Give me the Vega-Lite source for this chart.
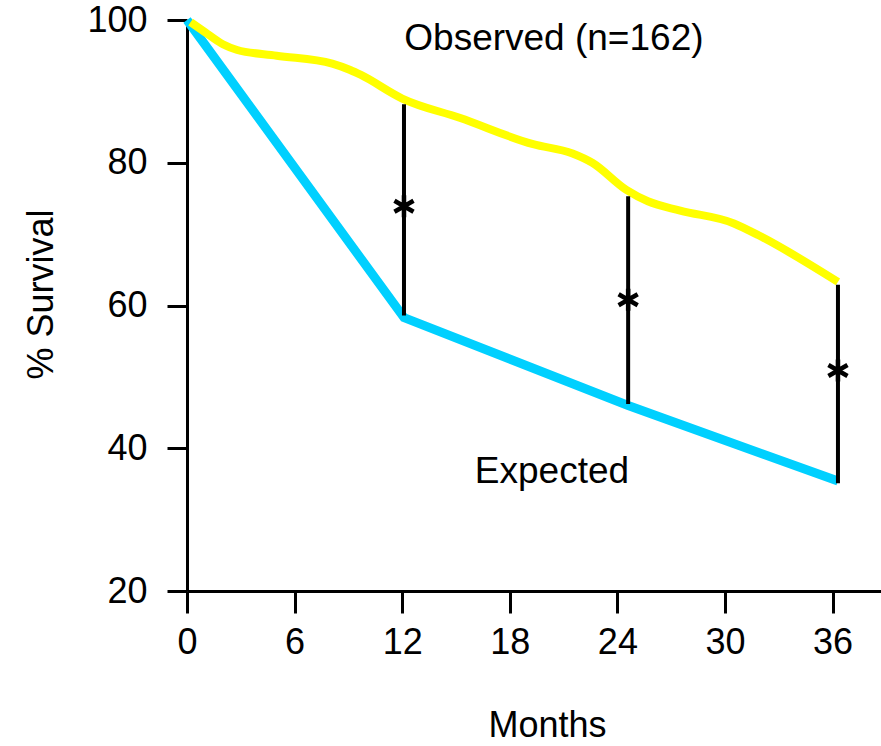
{
  "$schema": "https://vega.github.io/schema/vega-lite/v6.json",
  "width": 694,
  "height": 571,
  "autosize": {"type": "none"},
  "padding": {"left": 187, "top": 20, "right": 0, "bottom": 155},
  "background": "white",
  "config": {
    "view": {"stroke": null},
    "font": "Liberation Sans",
    "axis": {
      "grid": false,
      "domainColor": "black",
      "domainWidth": 3,
      "tickColor": "black",
      "tickWidth": 3,
      "labelColor": "black",
      "labelFont": "Liberation Sans",
      "labelFontSize": 36,
      "labelFlush": false,
      "labelOverlap": false,
      "titleFont": "Liberation Sans",
      "titleFontSize": 36,
      "titleFontWeight": "normal",
      "titleColor": "black"
    }
  },
  "layer": [
    {
      "data": {"values": [
        {"month": 0, "pct": 100},
        {"month": 12.1, "pct": 58.3},
        {"month": 24.6, "pct": 46.0},
        {"month": 36.3, "pct": 35.4}
      ]},
      "mark": {"type": "line", "color": "#00D0FF", "strokeWidth": 9},
      "encoding": {
        "x": {"field": "month", "type": "quantitative",
          "scale": {"domain": [0, 38.7], "nice": false, "zero": false},
          "axis": {"values": [0, 6, 12, 18, 24, 30, 36], "tickSize": 22, "labelPadding": 12,
            "title": "Months", "titleX": 360, "titleY": 145, "titleBaseline": "alphabetic", "titleAlign": "center"}},
        "y": {"field": "pct", "type": "quantitative",
          "scale": {"domain": [20, 100], "nice": false, "zero": false},
          "axis": {"values": [20, 40, 60, 80, 100], "tickSize": 20, "labelPadding": 20,
            "title": "% Survival", "titleAngle": -90, "titleX": -135, "titleY": 274, "titleBaseline": "alphabetic", "titleAlign": "center"}}
      }
    },
    {
      "data": {"values": [
        {"month": 0.2, "pct": 99.7},
        {"month": 1.0, "pct": 98.3},
        {"month": 2.0, "pct": 96.6},
        {"month": 2.8, "pct": 95.8},
        {"month": 5.0, "pct": 95.0},
        {"month": 8.1, "pct": 93.9},
        {"month": 9.1, "pct": 93.0},
        {"month": 9.7, "pct": 92.3},
        {"month": 12.0, "pct": 89.0},
        {"month": 15.2, "pct": 86.3},
        {"month": 19.3, "pct": 82.6},
        {"month": 21.5, "pct": 81.3},
        {"month": 22.6, "pct": 80.0},
        {"month": 24.5, "pct": 76.2},
        {"month": 25.7, "pct": 74.6},
        {"month": 27.5, "pct": 73.3},
        {"month": 30.5, "pct": 71.5},
        {"month": 31.9, "pct": 69.8},
        {"month": 36.3, "pct": 63.3}
      ]},
      "mark": {"type": "line", "color": "#FFFF00", "strokeWidth": 8, "interpolate": "monotone"},
      "encoding": {
        "x": {"field": "month", "type": "quantitative"},
        "y": {"field": "pct", "type": "quantitative"}
      }
    },
    {
      "data": {"values": [
        {"month": 12.1, "lo": 58.6, "hi": 88.2},
        {"month": 24.6, "lo": 46.2, "hi": 75.3},
        {"month": 36.3, "lo": 35.1, "hi": 62.9}
      ]},
      "mark": {"type": "rule", "color": "black", "strokeWidth": 4},
      "encoding": {
        "x": {"field": "month", "type": "quantitative"},
        "y": {"field": "lo", "type": "quantitative"},
        "y2": {"field": "hi"}
      }
    },
    {
      "data": {"values": [
        {"month": 12.1, "pct": 73.9},
        {"month": 24.6, "pct": 60.8},
        {"month": 36.3, "pct": 50.9}
      ]},
      "mark": {"type": "point", "shape": "M0,-1L0,1M-0.87,-0.5L0.87,0.5M-0.87,0.5L0.87,-0.5", "filled": false, "stroke": "black", "strokeWidth": 4.5, "size": 480, "opacity": 1},
      "encoding": {
        "x": {"field": "month", "type": "quantitative"},
        "y": {"field": "pct", "type": "quantitative"}
      }
    },
    {
      "data": {"values": [
        {"month": 20.46, "pct": 95.8, "label": "Observed (n=162)"},
        {"month": 20.35, "pct": 35.2, "label": "Expected"}
      ]},
      "mark": {"type": "text", "font": "Liberation Sans", "fontSize": 37, "color": "black", "align": "center", "baseline": "alphabetic"},
      "encoding": {
        "x": {"field": "month", "type": "quantitative"},
        "y": {"field": "pct", "type": "quantitative"},
        "text": {"field": "label"}
      }
    }
  ]
}
